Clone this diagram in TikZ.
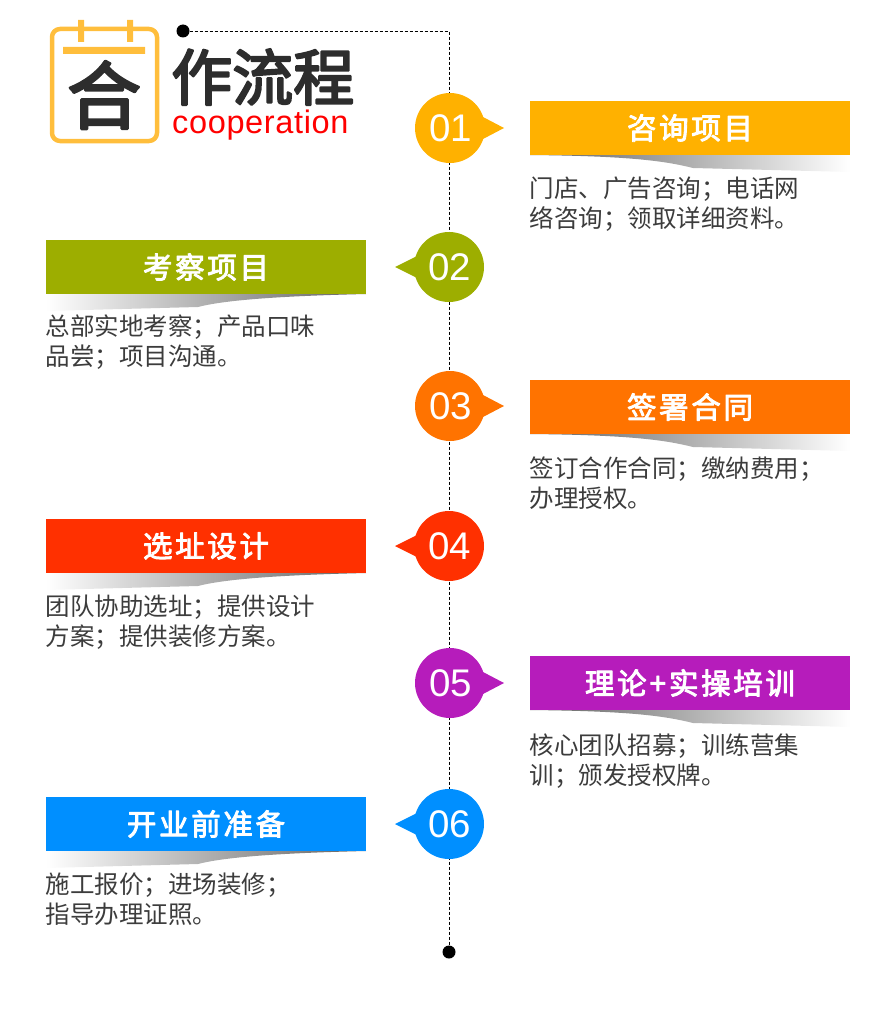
\documentclass[tikz,border=0pt]{standalone}
\usepackage{fontspec}
\setmainfont{Liberation Sans}
\newfontfamily\cjk{Noto Sans CJK SC}
\newfontfamily\cjkt[LetterSpace=9,FakeBold=3]{Noto Sans CJK SC}
\newfontfamily\cjkh[FakeBold=3.5]{Noto Sans CJK SC}
\newfontfamily\coop[LetterSpace=2]{Liberation Sans}
\definecolor{c1}{HTML}{FFB100}
\definecolor{c2}{HTML}{9DAE00}
\definecolor{c3}{HTML}{FF7300}
\definecolor{c4}{HTML}{FF3000}
\definecolor{c5}{HTML}{B61CBB}
\definecolor{c6}{HTML}{008FFF}
\definecolor{iconc}{HTML}{FFBE3C}
\definecolor{darkc}{HTML}{2D2D2D}
\definecolor{bodyc}{HTML}{3C3C3C}
\tikzset{
  dotn/.style={circle,fill=black,inner sep=0,minimum size=13},
  numn/.style={circle,inner sep=0,minimum size=70,text=white,font=\fontsize{38.5}{40}\selectfont},
  barn/.style={minimum width=320,minimum height=54,inner sep=0,text=white,font=\fontsize{29.5}{30}\selectfont\cjkt},
  bodyn/.style={anchor=north west,inner sep=0,align=left,text=bodyc,font=\fontsize{24.5}{30}\selectfont\cjk},
}
\begin{document}
\begin{tikzpicture}[x=1pt,y=-1pt,line join=round]
\useasboundingbox (0,0) rectangle (890,1030);
% icon and heading
\draw[iconc,line width=4.5,rounded corners=8] (52,29) rectangle (157,141);
\fill[iconc] (78,20) rectangle (84,42) (127,20) rectangle (133,42) (63,47) rectangle (145,54);
\node[text=darkc,inner sep=0,font=\fontsize{74}{74}\selectfont\cjkh] (hezi) at (104,95) {合};
\node[text=darkc,inner sep=0,anchor=west,font=\fontsize{61}{61}\selectfont\cjkh] (zuo) at (171,77) {作流程};
\node[text=red,inner sep=0,anchor=base west,font=\fontsize{32.5}{34}\selectfont\coop] (cooper) at (172,134) {cooperation};
% time line
\node[dotn] (topdot) at (183,31) {};
\node[dotn] (enddot) at (449,952) {};
\draw[densely dashed,line width=.9] (topdot) -| (enddot);
% right hand steps
\foreach \n/\c/\y/\by/\ty/\t/\b in {
  01/c1/128/128/177/咨询项目/{门店、广告咨询；电话网\\络咨询；领取详细资料。},
  03/c3/406/407/457/签署合同/{签订合作合同；缴纳费用；\\办理授权。},
  05/c5/683/683/734/{理论\hspace{3pt}+\hspace{3pt}实操培训}/{核心团队招募；训练营集\\训；颁发授权牌。}}
{
  \fill[\c] (483,\y-11) -- (504,\y) -- (483,\y+11) -- cycle;
  \node[numn,fill=\c] (num\n) at (450,\y) {\hspace{1.5pt}\n};
  \node[barn,fill=\c] (bar\n) at (690,\by) {\t};
  \shade[left color=black!62,right color=white] (530,\by+27) -- (850,\by+27) -- (850,\by+44) -- (693,\by+40) .. controls (665,\by+33) and (630,\by+28) .. (530,\by+27) -- cycle;
  \node[bodyn] (txt\n) at (529.5,\ty) {\b};
}
% left hand steps
\foreach \n/\c/\y/\ty/\t/\b in {
  02/c2/267/315/考察项目/{总部实地考察；产品口味\\品尝；项目沟通。},
  04/c4/546/595/选址设计/{团队协助选址；提供设计\\方案；提供装修方案。},
  06/c6/824/873/开业前准备/{施工报价；进场装修；\\指导办理证照。}}
{
  \fill[\c] (417,\y-11) -- (395,\y) -- (417,\y+11) -- cycle;
  \node[numn,fill=\c] (num\n) at (449,\y) {\hspace{1pt}\n};
  \node[barn,fill=\c] (bar\n) at (206,\y) {\t};
  \shade[left color=white,right color=black!62] (366,\y+27) -- (46,\y+27) -- (46,\y+44) -- (198,\y+40) .. controls (225,\y+33) and (280,\y+29) .. (366,\y+27) -- cycle;
  \node[bodyn] (txt\n) at (45.5,\ty) {\b};
}
\end{tikzpicture}
\end{document}
